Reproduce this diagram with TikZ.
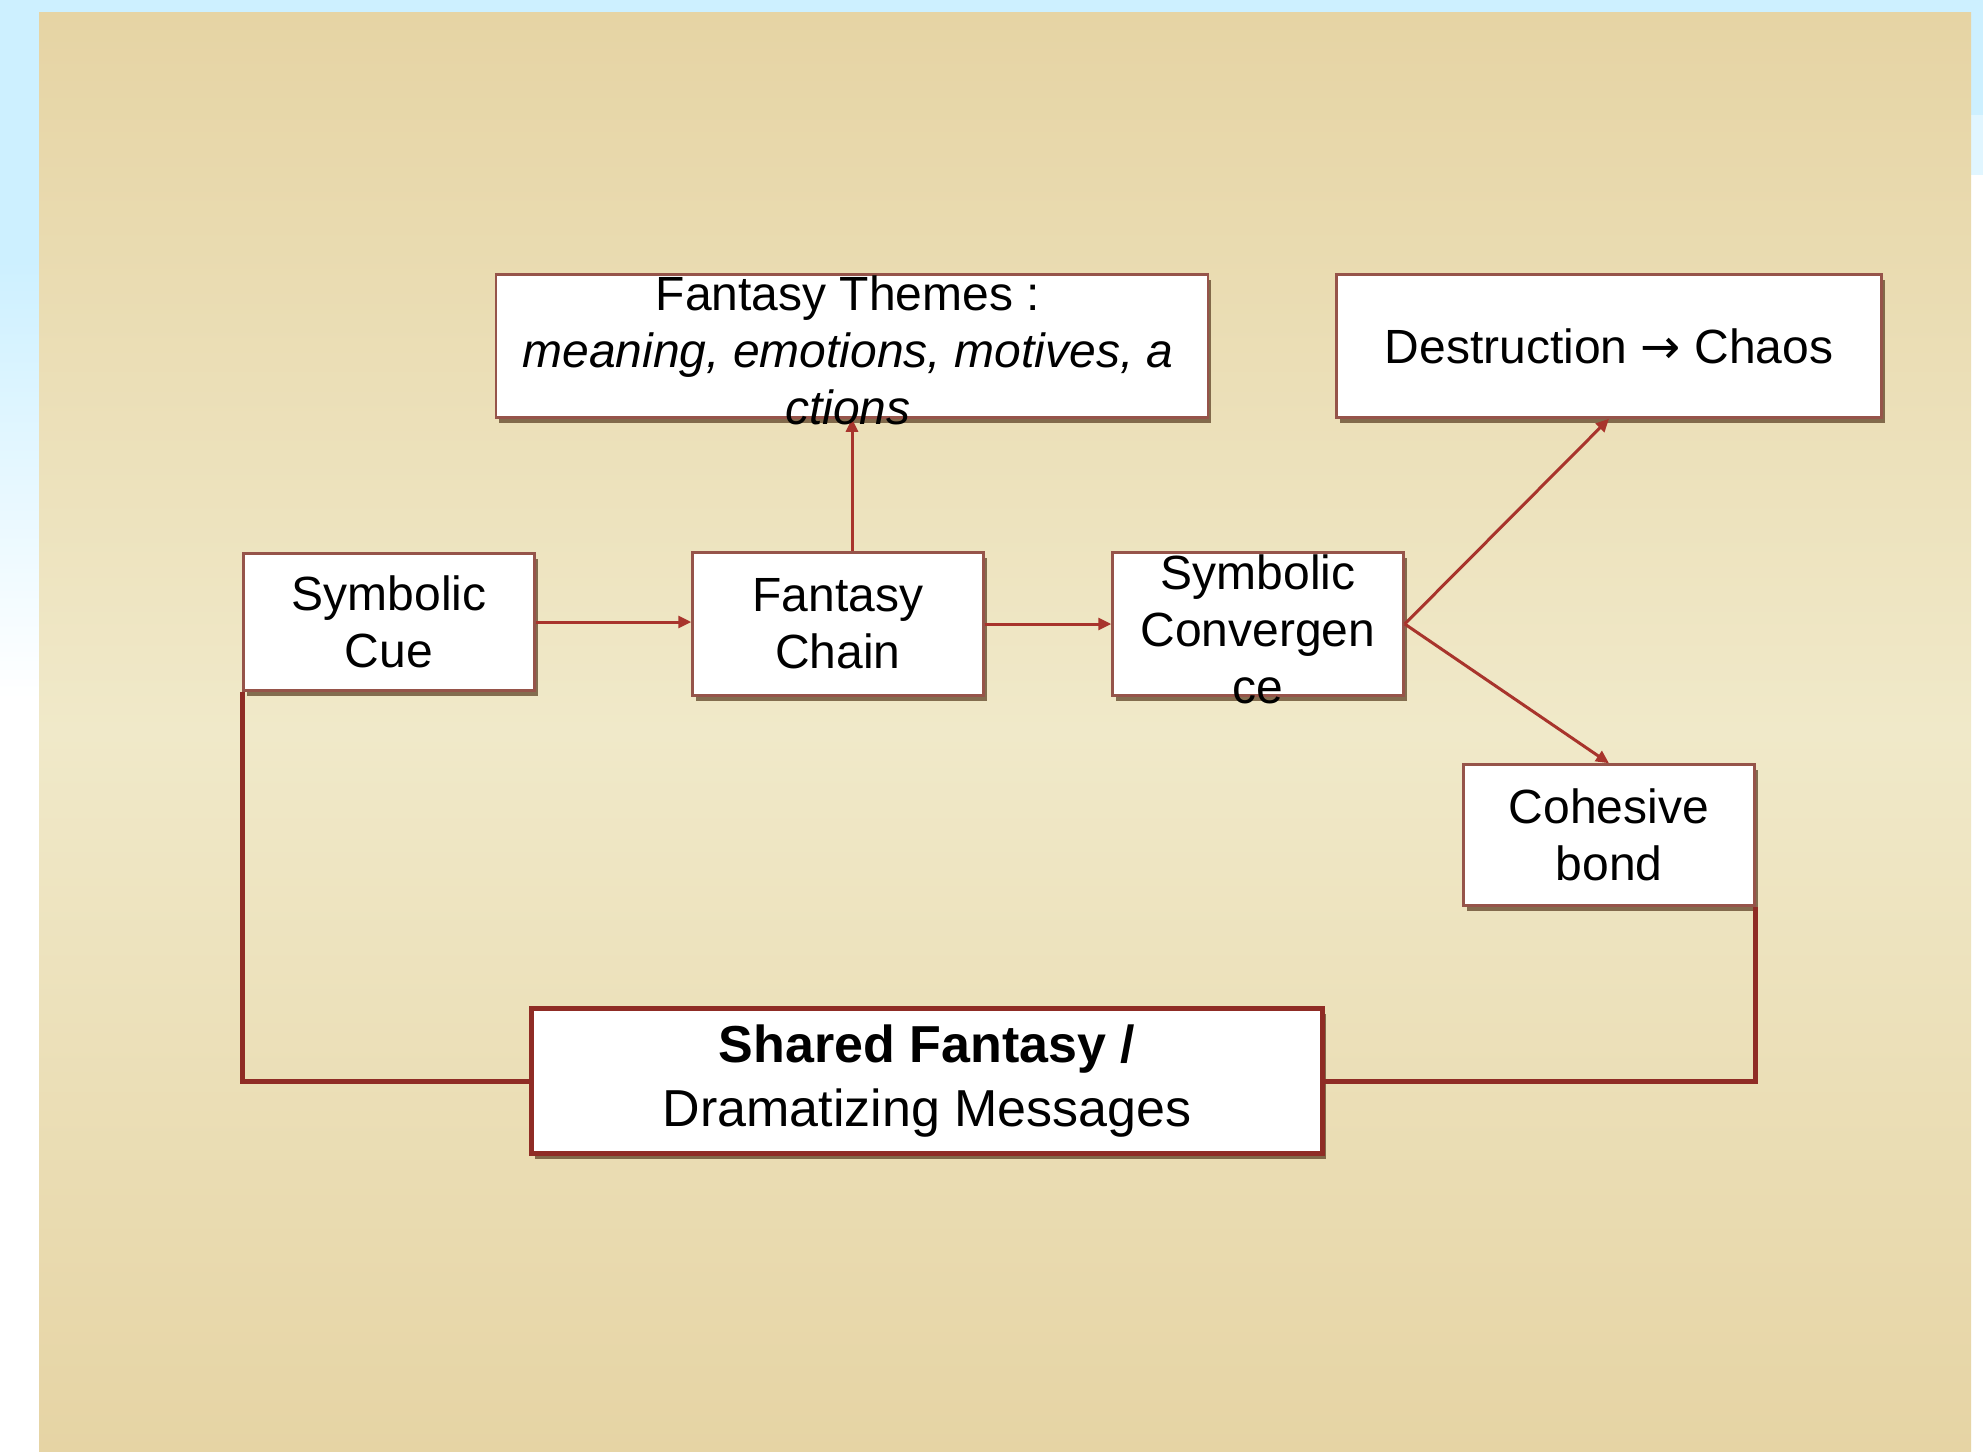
\documentclass[tikz,border=0pt]{standalone}
\usepackage{fontspec}
\setmainfont{Liberation Sans}
\newfontfamily\arrowfont{DejaVu Sans}
\usepackage{tikz}
\usetikzlibrary{shadows}
\usetikzlibrary{arrows.meta}

\definecolor{skyblue}{RGB}{205,240,255}
\definecolor{paperdark}{RGB}{230,212,164}
\definecolor{paperlight}{RGB}{240,233,201}
\definecolor{linkred}{RGB}{168,52,44}
\definecolor{boxedge}{RGB}{150,84,74}

\begin{document}
\begin{tikzpicture}[x=1pt,y=-1pt,
    card/.style={draw=boxedge,line width=2.5pt,fill=white,inner sep=0pt,
      minimum width=291pt,minimum height=141pt,align=center,
      font=\fontsize{48}{57}\selectfont,
      drop shadow={shadow xshift=3pt,shadow yshift=-5pt,fill=black!55!brown,opacity=0.7}},
    cardtext/.style={align=center,inner sep=0pt,font=\fontsize{48}{57}\selectfont},
    link/.style={draw=linkred,line width=3pt,-{Triangle[length=13pt,width=12pt]}},
    feedback/.style={draw=linkred!85!black,line width=5pt}]
  \useasboundingbox (0,0) rectangle (1983,1451);

  %Background
  \fill[white] (0,0) rectangle (1983,1451);
  \fill[skyblue] (0,0) rectangle (1983,12);
  \fill[skyblue] (0,0) rectangle (39,260);
  \shade[top color=skyblue,bottom color=white] (0,260) rectangle (39,700);
  \fill[skyblue] (1971,0) rectangle (1983,115);
  \fill[skyblue!60] (1971,115) rectangle (1983,175);
  %Shape: paper panel
  \shade[top color=paperdark,bottom color=paperdark,middle color=paperlight] (39,12) rectangle (1971,1451);

  %Shape: boxes
  \node[card,minimum width=712pt,minimum height=143pt] (themes) at (852,346) {};
  \node[card,minimum width=545pt,minimum height=143pt] (destr) at (1609,346) {Destruction {\arrowfont →} Chaos};
  \node[card,minimum height=137pt] (cue) at (389,622) {Symbolic\\Cue};
  \node[card,minimum height=143pt] (chain) at (838,624) {Fantasy\\Chain};
  \node[card,minimum height=143pt] (conv) at (1258,624) {};
  \node[card] (cohesive) at (1609,835) {Cohesive\\bond};
  \node[card,draw=linkred!85!black,line width=5pt,minimum width=791pt,minimum height=145pt,
    font=\fontsize{52}{64}\selectfont] (shared) at (927,1081) {\textbf{Shared Fantasy /}\\Dramatizing Messages};

  %Arrows
  \draw[link] (cue.east) -- (cue.east -| chain.west);
  \draw[link] (chain.east) -- (chain.east -| conv.west);
  \draw[link] (chain.north -| themes.south) -- (themes.south);
  \draw[link] (conv.east) -- (destr.south);
  \draw[link] (conv.east) -- (cohesive.north);
  %Feedback loop
  \draw[feedback] (cue.south west) |- (shared.west);
  \draw[feedback] (shared.east) -| (cohesive.south east);

  % Text Node
  \node[cardtext] (themes-txt) at (848,350) {Fantasy Themes :\\\textit{meaning, emotions, motives, a}\\\textit{ctions}};
  % Text Node
  \node[cardtext] (conv-txt) at (1258,629) {Symbolic\\Convergen\\ce};
\end{tikzpicture}
\end{document}
